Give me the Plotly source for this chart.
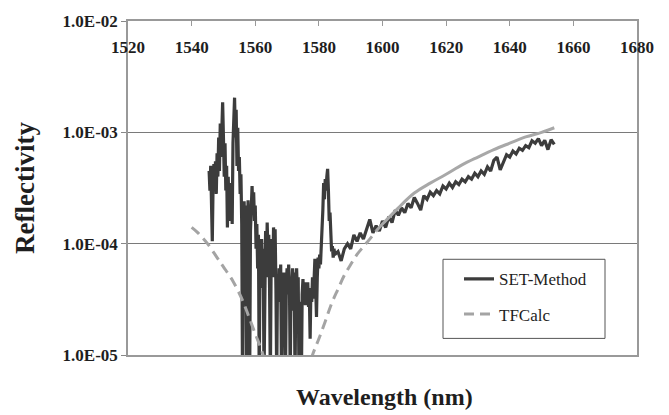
import plotly.graph_objects as go

# ---------------- data ----------------
# SET-Method: fine sampling (0.25 nm) from 1545.5 nm to 1585 nm
set_fine_start, set_fine_step = 1545.5, 0.25
set_refl_fine = [
    4.5e-4, 3.0e-4, 5.0e-4, 2.5e-4, 1.05e-4, 3.5e-4, 5.2e-4, 3.0e-4,
    5.5e-4, 2.8e-4, 6.5e-4, 4.0e-4, 9.0e-4, 4.5e-4, 1.2e-3, 6.0e-4,
    1.0e-3, 1.86e-3, 9.0e-4, 4.0e-4, 8.0e-4, 3.0e-4, 5.0e-4, 1.4e-4,
    4.0e-4, 2.0e-4, 3.5e-4, 1.6e-4, 3.0e-4, 1.5e-4, 8.0e-4, 1.3e-3,
    2.05e-3, 9.0e-4, 1.6e-3, 5.0e-4, 1.1e-3, 4.5e-4, 6.0e-4, 2.8e-4,
    4.2e-4, 1.5e-4, 6e-6, 1.2e-4, 2.4e-4, 1.0e-4, 2.2e-4, 6e-6,
    1.8e-4, 2.45e-4, 1.2e-4, 6e-6, 1.3e-4, 2.2e-4, 3.3e-4, 2.0e-4,
    2.9e-4, 1.6e-4, 2.2e-4, 9e-5, 1.5e-4, 6e-5, 1.2e-4, 6e-6,
    8e-5, 4e-5, 1.1e-4, 6e-5, 9e-5, 6e-6, 7e-5, 1.3e-4,
    5e-5, 1.55e-4, 8e-5, 1.2e-4, 4e-5, 6e-6, 7e-5, 1.1e-4,
    5e-5, 1.4e-4, 9e-5, 1.35e-4, 4e-5, 6e-6, 5e-5, 3e-5,
    6e-5, 4e-5, 6.5e-5, 6e-6, 4.5e-5, 3e-5, 5.5e-5, 2.5e-5,
    6e-6, 4e-5, 6e-5, 3.5e-5, 6.5e-5, 4.5e-5, 6e-6, 5e-5,
    3e-5, 6e-5, 2.5e-5, 5.5e-5, 6e-6, 4e-5, 6e-5, 3.5e-5,
    5e-5, 6e-6, 3e-5, 1.5e-5, 6e-6, 3.5e-5, 4.8e-5, 3e-5,
    4.5e-5, 2.8e-5, 4.2e-5, 3e-5, 4.5e-5, 2.7e-5, 3.5e-5, 1.4e-5,
    4e-5, 3e-5, 5e-5, 3.2e-5, 6.5e-5, 7.3e-5, 4e-5, 2.2e-5,
    5e-5, 7.5e-5, 6e-5, 8e-5, 6.5e-5, 9e-5, 1.1e-4, 2.0e-4,
    3.5e-4, 2.5e-4, 3.8e-4, 3.0e-4, 4.0e-4, 4.7e-4, 3.0e-4, 1.6e-4,
    1.9e-4, 1.0e-4, 8.5e-5, 9.5e-5, 7.5e-5, 9e-5, 8e-5,
]
# SET-Method: coarse sampling (1 nm) from 1586 nm to 1654 nm
set_coarse_start, set_coarse_step = 1586, 1.0
set_refl_coarse = [
    8.5e-5, 7.0e-5, 9.0e-5, 1.0e-4, 9.0e-5, 1.2e-4, 1.05e-4, 1.25e-4, 1.1e-4, 1.35e-4,
    1.65e-4, 1.25e-4, 1.45e-4, 1.3e-4, 1.6e-4, 1.4e-4, 1.75e-4, 1.55e-4, 2.0e-4, 1.8e-4,
    2.1e-4, 1.9e-4, 2.3e-4, 2.1e-4, 2.6e-4, 2.3e-4, 2.0e-4, 2.7e-4, 2.5e-4, 2.9e-4,
    2.7e-4, 3.0e-4, 2.8e-4, 3.3e-4, 3.1e-4, 3.5e-4, 3.2e-4, 3.6e-4, 3.4e-4, 3.8e-4,
    3.6e-4, 4.0e-4, 3.8e-4, 4.3e-4, 4.0e-4, 4.5e-4, 4.2e-4, 4.9e-4, 4.5e-4, 5.6e-4,
    6.0e-4, 4.6e-4, 5.5e-4, 6.3e-4, 6.0e-4, 6.8e-4, 6.4e-4, 7.2e-4, 6.9e-4, 7.6e-4,
    7.3e-4, 8.4e-4, 8.0e-4, 8.8e-4, 7.6e-4, 8.5e-4, 7.0e-4, 8.6e-4, 7.8e-4,
]

tf_wl_low = [1540, 1542, 1545, 1548, 1550, 1553, 1556, 1558, 1560, 1562, 1564, 1567,
             1570, 1573, 1576, 1578, 1580, 1582, 1584, 1586, 1588, 1590, 1592, 1594,
             1596, 1598]
tf_refl_low = [1.4e-4, 1.25e-4, 1.0e-4, 7.5e-5, 6.2e-5, 4.6e-5, 3.1e-5, 2.2e-5, 1.55e-5,
               1.1e-5, 7e-6, 4e-6, 3e-6, 4e-6, 6.5e-6, 1.0e-5, 1.4e-5, 2.0e-5, 2.9e-5,
               3.9e-5, 5.2e-5, 6.5e-5, 8.0e-5, 9.4e-5, 1.1e-4, 1.3e-4]
tf_wl_high = [1598, 1600, 1605, 1610, 1615, 1620, 1625, 1630, 1635, 1640, 1645, 1650, 1654]
tf_refl_high = [1.3e-4, 1.5e-4, 2.1e-4, 2.85e-4, 3.5e-4, 4.2e-4, 5.1e-4, 6.0e-4, 7.0e-4,
                8.0e-4, 9.1e-4, 1.0e-3, 1.1e-3]

x_ticks = [1520, 1540, 1560, 1580, 1600, 1620, 1640, 1660, 1680]
y_tickvals = [1e-5, 1e-4, 1e-3, 1e-2]
y_ticktext = ["1.0E-05", "1.0E-04", "1.0E-03", "1.0E-02"]

set_wl = ([set_fine_start + set_fine_step * i for i in range(len(set_refl_fine))]
          + [set_coarse_start + set_coarse_step * i for i in range(len(set_refl_coarse))])
set_refl = set_refl_fine + set_refl_coarse

# ---------------- figure ----------------
SERIF = "Liberation Serif"
TXT = "#1e1e1e"
PLOT_L, PLOT_R, PLOT_T, PLOT_B = 128, 637, 13, 355
W, H = 669, 415
PW, PH = PLOT_R - PLOT_L, PLOT_B - PLOT_T


def px_x(px):
    return (px - PLOT_L) / PW


def px_y(py):
    return 1 - (py - PLOT_T) / PH


fig = go.Figure()

fig.add_trace(go.Scatter(
    x=set_wl, y=set_refl, mode="lines", name="SET-Method",
    line=dict(color="#3c3c3c", width=3.2), legendgroup="a",
))
fig.add_trace(go.Scatter(
    x=tf_wl_low, y=tf_refl_low, mode="lines", name="TFCalc",
    line=dict(color="#a4a4a4", width=3, dash="10px,6px", shape="spline"),
    legendgroup="b",
))
fig.add_trace(go.Scatter(
    x=tf_wl_high, y=tf_refl_high, mode="lines", name="TFCalc",
    line=dict(color="#a8a8a8", width=3, shape="spline"),
    showlegend=False, legendgroup="b",
))
# empty trace that attaches the tick-label axis (x2)
fig.add_trace(go.Scatter(
    x=x_ticks, y=[None] * len(x_ticks), xaxis="x2", mode="lines",
    showlegend=False, hoverinfo="skip",
))

tickfont = dict(family=SERIF, size=17, weight="bold", color=TXT)

fig.update_layout(
    width=W, height=H,
    margin=dict(l=PLOT_L, r=W - PLOT_R, t=PLOT_T, b=H - PLOT_B),
    paper_bgcolor="white", plot_bgcolor="white",
    font=dict(family=SERIF, color=TXT),
    showlegend=True,
    legend=dict(
        x=px_x(459), y=px_y(259), xanchor="left", yanchor="top",
        bgcolor="rgba(0,0,0,0)", borderwidth=0,
        font=dict(family=SERIF, size=17, color=TXT),
        tracegroupgap=10,
    ),
    xaxis=dict(
        side="top", range=[1520, 1680], tickvals=x_ticks,
        ticks="inside", ticklen=5, tickcolor="#999",
        showticklabels=False,
        showgrid=False, zeroline=False,
        showline=True, linecolor="#999", linewidth=1.5, mirror=True,
    ),
    xaxis2=dict(
        overlaying="x", anchor="free", position=0.957, side="bottom",
        range=[1520, 1680], tickvals=x_ticks,
        ticks="", showline=False, showgrid=False, zeroline=False,
        tickfont=tickfont,
    ),
    yaxis=dict(
        type="log", range=[-5, -1.9995],
        tickvals=y_tickvals, ticktext=y_ticktext,
        ticks="outside", ticklen=5, tickcolor="#888",
        tickfont=tickfont,
        showgrid=True, gridcolor="#7a7a7a", gridwidth=1.3,
        zeroline=False,
        showline=True, linecolor="#999", linewidth=1.5, mirror=True,
    ),
    shapes=[
        dict(type="rect", xref="paper", yref="paper",
             x0=px_x(443), x1=px_x(605), y0=px_y(338), y1=px_y(257),
             line=dict(color="#555", width=1), fillcolor="rgba(0,0,0,0)"),
    ],
    annotations=[
        dict(text="Wavelength (nm)", xref="paper", yref="paper",
             x=px_x(384), y=px_y(398), xanchor="center", yanchor="middle", showarrow=False,
             font=dict(family=SERIF, size=24, weight="bold", color=TXT)),
        dict(text="Reflectivity", xref="paper", yref="paper",
             x=px_x(25), y=px_y(184), xanchor="center", yanchor="middle", showarrow=False,
             textangle=-90,
             font=dict(family=SERIF, size=27, weight="bold", color=TXT)),
    ],
)

fig.write_html("out.html")
